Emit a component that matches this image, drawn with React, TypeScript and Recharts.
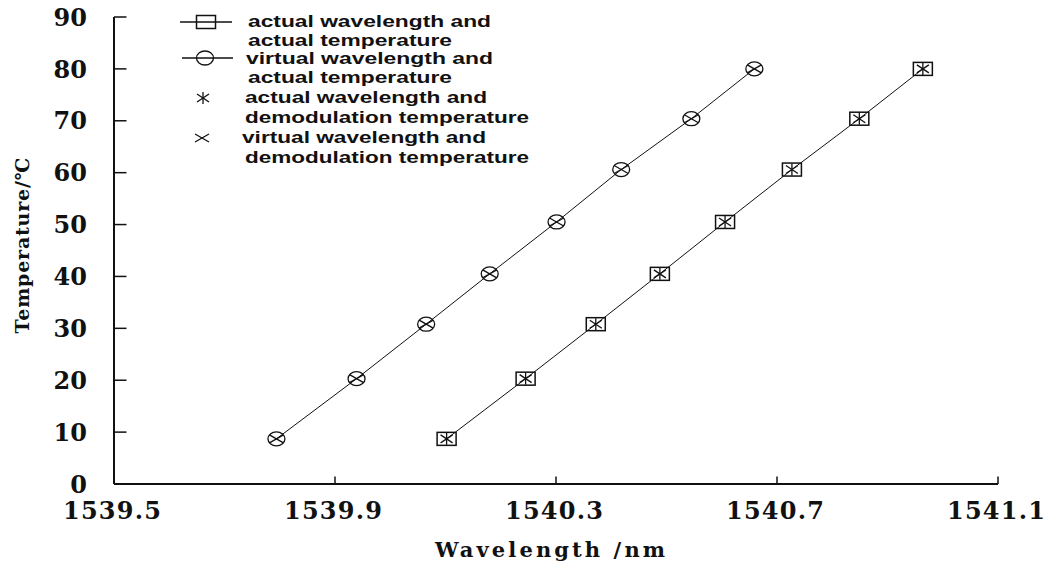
import React from "react";
import { ScatterChart, Scatter, XAxis, YAxis, Legend, Label } from "recharts";

const wavelengthTicks = [1539.5, 1539.9, 1540.3, 1540.7, 1541.1];
const temperatureTicks = [0, 10, 20, 30, 40, 50, 60, 70, 80, 90];

// wavelength in nm, temperature in °C
const actualWavelength = [1540.102, 1540.245, 1540.372, 1540.488, 1540.606, 1540.727, 1540.849, 1540.964];
const virtualWavelength = [1539.794, 1539.939, 1540.065, 1540.18, 1540.301, 1540.418, 1540.545, 1540.659];
const actualTemperature = [8.7, 20.3, 30.8, 40.5, 50.5, 60.6, 70.4, 80.0];
const demodulationTemperature = [8.7, 20.3, 30.8, 40.5, 50.5, 60.6, 70.4, 80.0];

const legendLabels = [
  ["actual wavelength and", "actual temperature"],
  ["virtual wavelength and", "actual temperature"],
  ["actual wavelength and", "demodulation temperature"],
  ["virtual wavelength and", "demodulation temperature"],
];

const toPoints = (xs: number[], ys: number[]) => xs.map((x, i) => ({ x, y: ys[i] }));

const INK = "#111";
const SERIF = "'DejaVu Serif', serif";

function SquareMark({ cx, cy }: any) {
  return <rect x={cx - 9.5} y={cy - 6.5} width={19} height={13} fill="none" stroke={INK} strokeWidth={1.5} />;
}

function CircleMark({ cx, cy }: any) {
  return <ellipse cx={cx} cy={cy} rx={8.5} ry={7} fill="none" stroke={INK} strokeWidth={1.3} />;
}

function StarMark({ cx, cy }: any) {
  return (
    <g stroke={INK} strokeWidth={1.3}>
      <line x1={cx} y1={cy - 6} x2={cx} y2={cy + 6} />
      <line x1={cx - 6} y1={cy - 4} x2={cx + 6} y2={cy + 4} />
      <line x1={cx - 6} y1={cy + 4} x2={cx + 6} y2={cy - 4} />
    </g>
  );
}

function CrossMark({ cx, cy }: any) {
  return (
    <g stroke={INK} strokeWidth={1.3}>
      <line x1={cx - 7} y1={cy - 4} x2={cx + 7} y2={cy + 4} />
      <line x1={cx - 7} y1={cy + 4} x2={cx + 7} y2={cy - 4} />
    </g>
  );
}

function XTick({ x, y, payload }: any) {
  return (
    <g>
      <line x1={x} y1={y} x2={x} y2={y - 7.5} stroke={INK} strokeWidth={1.5} />
      <text
        x={x - 2}
        y={y + 35}
        textAnchor="middle"
        textLength={98}
        lengthAdjust="spacing"
        fontFamily={SERIF}
        fontWeight="bold"
        fontSize={24}
        fill={INK}
      >
        {payload.value.toFixed(1)}
      </text>
    </g>
  );
}

function YTick({ x, y, payload }: any) {
  return (
    <g>
      <line x1={x} y1={y} x2={x + 12.5} y2={y} stroke={INK} strokeWidth={1.5} />
      <text x={x - 27} y={y} dy="0.36em" textAnchor="end" fontFamily={SERIF} fontWeight="bold" fontSize={24} fill={INK}>
        {payload.value}
      </text>
    </g>
  );
}

function XTitle({ viewBox }: any) {
  return (
    <text
      x={viewBox.x + viewBox.width / 2 - 6}
      y={viewBox.y + 73}
      textAnchor="middle"
      textLength={230}
      lengthAdjust="spacing"
      fontFamily={SERIF}
      fontWeight="bold"
      fontSize={21}
      fill={INK}
    >
      Wavelength /nm
    </text>
  );
}

function YTitle({ viewBox }: any) {
  const cx = 22;
  const cy = viewBox.y + viewBox.height / 2 - 5;
  return (
    <text
      x={cx}
      y={cy}
      dy="0.36em"
      transform={`rotate(-90 ${cx} ${cy})`}
      textAnchor="middle"
      textLength={176}
      lengthAdjust="spacing"
      fontFamily={SERIF}
      fontWeight="bold"
      fontSize={19}
      fill={INK}
    >
      Temperature/℃
    </text>
  );
}

// layout of the legend block: text x, line centres and stretched widths per row
const legendRows = [
  { textX: [248, 248], lineY: [21, 40], widths: [243, 204] },
  { textX: [246, 248], lineY: [58, 77], widths: [247, 204] },
  { textX: [245, 245], lineY: [97, 117], widths: [242, 284] },
  { textX: [242, 245], lineY: [137, 157], widths: [244, 284] },
];

function ChartLegend() {
  return (
    <svg width={560} height={170} style={{ display: "block" }}>
      <line x1={180} y1={22} x2={232} y2={22} stroke={INK} strokeWidth={1.3} />
      <SquareMark cx={206} cy={22} />
      <line x1={182} y1={58} x2={233} y2={58} stroke={INK} strokeWidth={1.3} />
      <CircleMark cx={205} cy={58} />
      <StarMark cx={203} cy={98} />
      <CrossMark cx={202} cy={138} />
      {legendRows.map((row, i) =>
        legendLabels[i].map((t, j) => (
          <text
            key={`${i}-${j}`}
            x={row.textX[j]}
            y={row.lineY[j]}
            dy="0.36em"
            textLength={row.widths[j]}
            lengthAdjust="spacingAndGlyphs"
            fontFamily="'Liberation Sans', Arial, sans-serif"
            fontWeight="bold"
            fontSize={17}
            fill={INK}
          >
            {t}
          </text>
        ))
      )}
    </svg>
  );
}

export default function App() {
  const actual = toPoints(actualWavelength, actualTemperature);
  const virtual = toPoints(virtualWavelength, actualTemperature);
  const actualDemod = toPoints(actualWavelength, demodulationTemperature);
  const virtualDemod = toPoints(virtualWavelength, demodulationTemperature);

  return (
    <div style={{ position: "absolute", left: 0, top: 0, width: 1050, height: 563, background: "#fff" }}>
      <ScatterChart width={1050} height={563} margin={{ top: 17, right: 52, bottom: 0, left: 0 }}>
        <XAxis
          type="number"
          dataKey="x"
          domain={[1539.5, 1541.1]}
          ticks={wavelengthTicks}
          interval={0}
          height={79}
          tickSize={0}
          tickMargin={0}
          tickLine={false}
          tick={<XTick />}
          axisLine={{ stroke: INK, strokeWidth: 2 }}
        >
          <Label content={<XTitle />} />
        </XAxis>
        <YAxis
          type="number"
          dataKey="y"
          domain={[0, 90]}
          ticks={temperatureTicks}
          interval={0}
          width={114}
          tickSize={0}
          tickMargin={0}
          tickLine={false}
          tick={<YTick />}
          axisLine={{ stroke: INK, strokeWidth: 2 }}
        >
          <Label content={<YTitle />} />
        </YAxis>
        <Legend
          layout="vertical"
          align="center"
          verticalAlign="middle"
          content={<ChartLegend />}
          wrapperStyle={{ left: 0, top: 0, width: 560, height: 170 }}
        />
        <Scatter
          name="actual wavelength and actual temperature"
          data={actual}
          shape={<SquareMark />}
          line={{ stroke: INK, strokeWidth: 1 }}
          isAnimationActive={false}
        />
        <Scatter
          name="virtual wavelength and actual temperature"
          data={virtual}
          shape={<CircleMark />}
          line={{ stroke: INK, strokeWidth: 1 }}
          isAnimationActive={false}
        />
        <Scatter
          name="actual wavelength and demodulation temperature"
          data={actualDemod}
          shape={<StarMark />}
          isAnimationActive={false}
        />
        <Scatter
          name="virtual wavelength and demodulation temperature"
          data={virtualDemod}
          shape={<CrossMark />}
          isAnimationActive={false}
        />
      </ScatterChart>
    </div>
  );
}
